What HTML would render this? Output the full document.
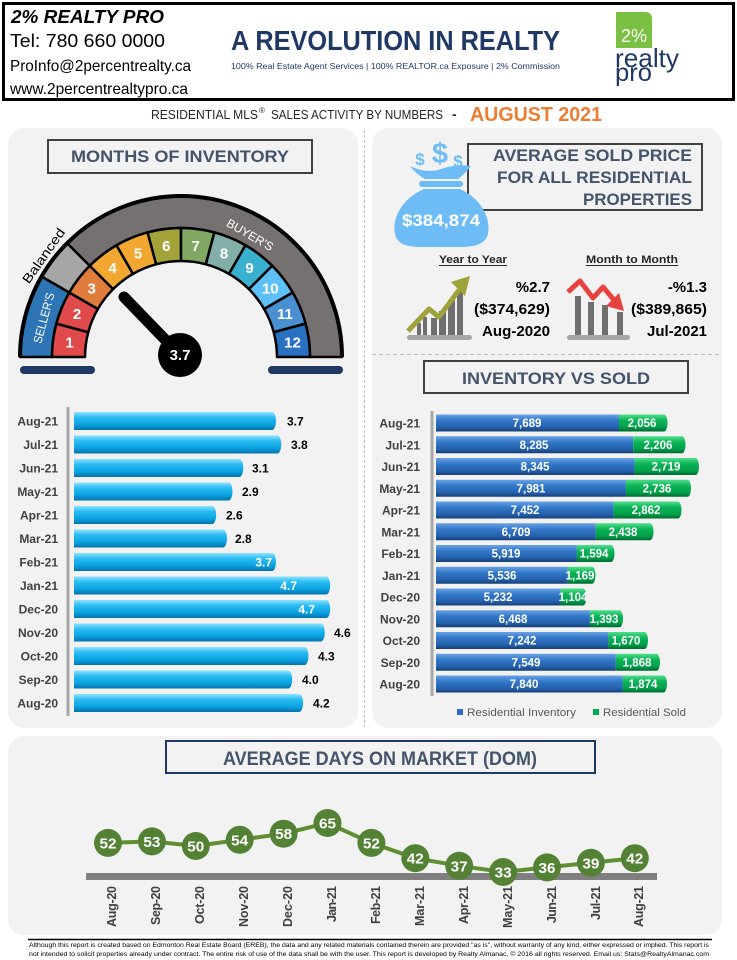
<!DOCTYPE html>
<html><head><meta charset="utf-8"><style>
html,body{margin:0;padding:0;background:#fff;width:737px;height:960px;overflow:hidden}
svg{display:block}
text{font-family:"Liberation Sans",sans-serif}
</style></head><body>
<svg width="737" height="960" viewBox="0 0 737 960" xmlns="http://www.w3.org/2000/svg">
<defs>
<linearGradient id="gb" x1="0" y1="0" x2="0" y2="1">
<stop offset="0" stop-color="#8fe2ff"/><stop offset="0.3" stop-color="#2cbcf2"/><stop offset="0.7" stop-color="#0aa2e2"/><stop offset="1" stop-color="#0672aa"/></linearGradient>
<linearGradient id="gi" x1="0" y1="0" x2="0" y2="1">
<stop offset="0" stop-color="#6aa2e6"/><stop offset="0.35" stop-color="#3378c8"/><stop offset="0.75" stop-color="#2461ad"/><stop offset="1" stop-color="#173f78"/></linearGradient>
<linearGradient id="gs" x1="0" y1="0" x2="0" y2="1">
<stop offset="0" stop-color="#4fe08a"/><stop offset="0.35" stop-color="#0cb257"/><stop offset="0.75" stop-color="#00a04a"/><stop offset="1" stop-color="#006a30"/></linearGradient>
</defs>

<!-- Header -->
<rect x="3.5" y="3.5" width="730" height="96" fill="#fff" stroke="#000" stroke-width="3"/>
<text x="11" y="23" font-size="18" font-weight="bold" font-style="italic" textLength="153" lengthAdjust="spacingAndGlyphs">2% REALTY PRO</text>
<text x="10" y="47" font-size="18.5" textLength="155" lengthAdjust="spacingAndGlyphs">Tel: 780 660 0000</text>
<text x="10" y="71" font-size="16" textLength="181" lengthAdjust="spacingAndGlyphs">ProInfo@2percentrealty.ca</text>
<text x="10" y="94" font-size="16" textLength="178" lengthAdjust="spacingAndGlyphs">www.2percentrealtypro.ca</text>
<text x="231" y="50" font-size="28" font-weight="bold" fill="#1f3864" textLength="329" lengthAdjust="spacingAndGlyphs">A REVOLUTION IN REALTY</text>
<text x="231" y="69" font-size="8.5" fill="#1f3864" textLength="329" lengthAdjust="spacingAndGlyphs">100% Real Estate Agent Services | 100% REALTOR.ca Exposure | 2% Commission</text>
<path d="M616,12 H645 Q652,12 652,19 V48 H616 Z" fill="#7ac143"/>
<text x="634" y="42" font-size="18" fill="#fff" text-anchor="middle">2%</text>
<text x="615" y="67" font-size="26" fill="#1f3864" textLength="64" lengthAdjust="spacingAndGlyphs">realty</text>
<text x="615" y="81" font-size="25" fill="#1f3864" textLength="37" lengthAdjust="spacingAndGlyphs">pro</text>

<!-- Title line -->
<text x="151" y="119" font-size="12.5" fill="#262626" textLength="107" lengthAdjust="spacingAndGlyphs">RESIDENTIAL MLS</text>
<text x="259" y="113" font-size="8" fill="#262626">®</text>
<text x="271" y="119" font-size="12.5" fill="#262626" textLength="172" lengthAdjust="spacingAndGlyphs">SALES ACTIVITY BY NUMBERS</text>
<text x="452" y="119" font-size="14" font-weight="bold" fill="#262626">-</text>
<text x="470" y="121" font-size="20" font-weight="bold" fill="#ed7d31" textLength="132" lengthAdjust="spacingAndGlyphs">AUGUST 2021</text>

<!-- Panels -->
<rect x="8" y="128" width="350" height="600" rx="16" fill="#f2f2f2"/>
<rect x="372" y="128" width="350" height="600" rx="16" fill="#f2f2f2"/>
<rect x="8" y="736" width="714" height="199" rx="16" fill="#f2f2f2"/>
<line x1="364.5" y1="130" x2="364.5" y2="727" stroke="#bdbdbd" stroke-width="1" stroke-dasharray="3,2"/>
<line x1="372" y1="354.5" x2="722" y2="354.5" stroke="#bdbdbd" stroke-width="1" stroke-dasharray="4,3"/>

<!-- Months of inventory title -->
<rect x="48" y="140" width="264" height="33" fill="none" stroke="#404040" stroke-width="2"/>
<text x="180" y="162" font-size="17" font-weight="bold" fill="#44546a" text-anchor="middle" textLength="218" lengthAdjust="spacingAndGlyphs">MONTHS OF INVENTORY</text>

<!-- Gauge -->
<g stroke="#000" stroke-width="2.5" stroke-linejoin="round">
<path d="M20,357 A161,161 0 0 1 41.57,276.5 L69.29,292.5 A129,129 0 0 0 52,357 Z" fill="#2e75b6"/>
<path d="M41.57,276.5 A161,161 0 0 1 67.16,243.16 L89.78,265.78 A129,129 0 0 0 69.29,292.5 Z" fill="#a6a6a6"/>
<path d="M67.16,243.16 A161,161 0 0 1 342,357 L310,357 A129,129 0 0 0 89.78,265.78 Z" fill="#767171"/>
<path d="M52,357 A129,129 0 0 1 56.40,323.61 L88.27,332.16 A96,96 0 0 0 85,357 Z" fill="#e04a4a"/>
<path d="M56.40,323.61 A129,129 0 0 1 69.29,292.5 L97.86,309 A96,96 0 0 0 88.27,332.16 Z" fill="#e04a4a"/>
<path d="M69.29,292.5 A129,129 0 0 1 89.78,265.78 L113.12,289.12 A96,96 0 0 0 97.86,309 Z" fill="#e07d3c"/>
<path d="M89.78,265.78 A129,129 0 0 1 116.5,245.29 L133,273.86 A96,96 0 0 0 113.12,289.12 Z" fill="#f2a830"/>
<path d="M116.5,245.29 A129,129 0 0 1 147.61,232.40 L156.16,264.27 A96,96 0 0 0 133,273.86 Z" fill="#f2a830"/>
<path d="M147.61,232.40 A129,129 0 0 1 181,228 L181,261 A96,96 0 0 0 156.16,264.27 Z" fill="#a3a33a"/>
<path d="M181,228 A129,129 0 0 1 214.39,232.40 L205.84,264.27 A96,96 0 0 0 181,261 Z" fill="#7fa862"/>
<path d="M214.39,232.40 A129,129 0 0 1 245.5,245.29 L229,273.86 A96,96 0 0 0 205.84,264.27 Z" fill="#82b0a8"/>
<path d="M245.5,245.29 A129,129 0 0 1 272.22,265.78 L248.88,289.12 A96,96 0 0 0 229,273.86 Z" fill="#3ab0d0"/>
<path d="M272.22,265.78 A129,129 0 0 1 292.71,292.5 L264.14,309 A96,96 0 0 0 248.88,289.12 Z" fill="#5ec0f8"/>
<path d="M292.71,292.5 A129,129 0 0 1 305.60,323.61 L273.73,332.16 A96,96 0 0 0 264.14,309 Z" fill="#4a90d0"/>
<path d="M305.60,323.61 A129,129 0 0 1 310,357 L277,357 A96,96 0 0 0 273.73,332.16 Z" fill="#2a70c0"/>
</g>
<path d="M20,357 A161,161 0 0 1 342,357" fill="none" stroke="#000" stroke-width="4"/>
<g font-size="15" font-weight="bold" fill="#fff" text-anchor="middle">
<text x="69.5" y="347.5">1</text><text x="77.1" y="319">2</text><text x="91.7" y="293.5">3</text>
<text x="112.5" y="273">4</text><text x="138" y="258.5">5</text><text x="166.3" y="251">6</text>
<text x="195.7" y="251">7</text><text x="224" y="258.5">8</text><text x="249.5" y="273">9</text>
<text x="270.3" y="293.5">10</text><text x="284.9" y="319">11</text><text x="292.5" y="347.5">12</text>
</g>
<text transform="translate(44,318) rotate(-75)" font-size="12" fill="#fff" text-anchor="middle" dy="4" textLength="52" lengthAdjust="spacingAndGlyphs">SELLER'S</text>
<text transform="translate(44,256) rotate(-55)" font-size="13" fill="#000" text-anchor="middle" dy="4" textLength="64" lengthAdjust="spacingAndGlyphs">Balanced</text>
<text transform="translate(250,235) rotate(30)" font-size="12" fill="#fff" text-anchor="middle" dy="4" textLength="52" lengthAdjust="spacingAndGlyphs">BUYER'S</text>
<line x1="180" y1="355" x2="124" y2="297" stroke="#000" stroke-width="11" stroke-linecap="round"/>
<circle cx="180" cy="355" r="22" fill="#000"/>
<text x="180" y="360" font-size="15" font-weight="bold" fill="#fff" text-anchor="middle">3.7</text>
<rect x="20" y="366" width="75" height="8" rx="4" fill="#1f3864"/>
<rect x="268" y="366" width="75" height="8" rx="4" fill="#1f3864"/>

<!-- Months bar chart -->
<line x1="68" y1="407" x2="68" y2="716" stroke="#a6a6a6" stroke-width="3"/>
<g fill="url(#gb)">
<path d="M74,412 H272 A4,9 0 0 1 272,430 H74 Z"/>
<path d="M74,435.5 H277.3 A4,9 0 0 1 277.3,453.5 H74 Z"/>
<path d="M74,459 H239.3 A4,9 0 0 1 239.3,477 H74 Z"/>
<path d="M74,482.5 H228.5 A4,9 0 0 1 228.5,500.5 H74 Z"/>
<path d="M74,506 H212.2 A4,9 0 0 1 212.2,524 H74 Z"/>
<path d="M74,529.5 H223 A4,9 0 0 1 223,547.5 H74 Z"/>
<path d="M74,553 H272 A4,9 0 0 1 272,571 H74 Z"/>
<path d="M74,576.5 H326.2 A4,9 0 0 1 326.2,594.5 H74 Z"/>
<path d="M74,600 H326.2 A4,9 0 0 1 326.2,618 H74 Z"/>
<path d="M74,623.5 H320.8 A4,9 0 0 1 320.8,641.5 H74 Z"/>
<path d="M74,647 H304.5 A4,9 0 0 1 304.5,665 H74 Z"/>
<path d="M74,670.5 H288.2 A4,9 0 0 1 288.2,688.5 H74 Z"/>
<path d="M74,694 H299.1 A4,9 0 0 1 299.1,712 H74 Z"/>
</g>
<g font-size="12" font-weight="bold" fill="#404040" text-anchor="end">
<text x="58" y="425.5">Aug-21</text><text x="58" y="449">Jul-21</text><text x="58" y="472.5">Jun-21</text>
<text x="58" y="496">May-21</text><text x="58" y="519.5">Apr-21</text><text x="58" y="543">Mar-21</text>
<text x="58" y="566.5">Feb-21</text><text x="58" y="590">Jan-21</text><text x="58" y="613.5">Dec-20</text>
<text x="58" y="637">Nov-20</text><text x="58" y="660.5">Oct-20</text><text x="58" y="684">Sep-20</text>
<text x="58" y="707.5">Aug-20</text>
</g>
<g font-size="12" font-weight="bold" fill="#000">
<text x="287" y="425.5">3.7</text><text x="291" y="449">3.8</text><text x="252" y="472.5">3.1</text>
<text x="242" y="496">2.9</text><text x="226" y="519.5">2.6</text><text x="235" y="543">2.8</text>
<text x="334" y="637">4.6</text><text x="318" y="660.5">4.3</text><text x="302" y="684">4.0</text>
<text x="313" y="707.5">4.2</text>
</g>
<g font-size="12" font-weight="bold" fill="#fff" text-anchor="end">
<text x="272" y="566.5">3.7</text><text x="297" y="590">4.7</text><text x="315" y="613.5">4.7</text>
</g>

<!-- Average sold price -->
<rect x="468" y="144" width="234" height="66" fill="none" stroke="#404040" stroke-width="2"/>
<g font-size="17" font-weight="bold" fill="#44546a" text-anchor="end">
<text x="692" y="161" textLength="199" lengthAdjust="spacingAndGlyphs">AVERAGE  SOLD PRICE</text>
<text x="692" y="183" textLength="195" lengthAdjust="spacingAndGlyphs">FOR ALL RESIDENTIAL</text>
<text x="692" y="205" textLength="109" lengthAdjust="spacingAndGlyphs">PROPERTIES</text>
</g>
<!-- money bag -->
<g fill="#6ebcf5">
<path d="M424,189 L460,189 C482,199 491,219 488,234 Q485,247 462,247 L420,247 Q397,247 395,234 C392,219 401,199 424,189 Z"/>
<rect x="419" y="181" width="44" height="6" rx="3"/>
<path d="M410,166 Q426,174 441,169 Q456,164 471,166 Q465,174 458,179 L425,179 Q416,174 410,166 Z"/>
<text x="420" y="165" font-size="17" font-weight="bold" text-anchor="middle">$</text>
<text x="440" y="163" font-size="29" font-weight="bold" text-anchor="middle">$</text>
<text x="458" y="167" font-size="17" font-weight="bold" text-anchor="middle">$</text>
</g>
<text x="441" y="226" font-size="17" font-weight="bold" fill="#fff" text-anchor="middle" textLength="78" lengthAdjust="spacingAndGlyphs">$384,874</text>

<text x="473" y="263" font-size="11" font-weight="bold" fill="#262626" text-anchor="middle" textLength="68" lengthAdjust="spacingAndGlyphs">Year to Year</text>
<line x1="439" y1="265.5" x2="507" y2="265.5" stroke="#262626" stroke-width="1"/>
<text x="632" y="263" font-size="11" font-weight="bold" fill="#262626" text-anchor="middle" textLength="92" lengthAdjust="spacingAndGlyphs">Month to Month</text>
<line x1="586" y1="265.5" x2="678" y2="265.5" stroke="#262626" stroke-width="1"/>

<!-- up chart icon -->
<rect x="407" y="335" width="65" height="5" rx="2.5" fill="#a6a6a6"/>
<g fill="#6f6f6f">
<rect x="417" y="323" width="4" height="12"/><rect x="423" y="317" width="4" height="18"/>
<rect x="431" y="318" width="6" height="17"/><rect x="439" y="311" width="7" height="24"/>
<rect x="448" y="300" width="7" height="35"/><rect x="457" y="292" width="6" height="43"/>
</g>
<polyline points="408,331 429,309 439,317 459,290" fill="none" stroke="#9ea23a" stroke-width="5" stroke-linejoin="round"/>
<polygon points="470,276 451,282 465,296" fill="#9ea23a"/>
<!-- down chart icon -->
<rect x="567" y="335" width="63" height="5" rx="2.5" fill="#a6a6a6"/>
<g fill="#6f6f6f">
<rect x="575" y="296" width="6" height="39"/><rect x="588" y="302" width="6" height="33"/>
<rect x="602" y="305" width="6" height="30"/><rect x="617" y="312" width="6" height="23"/>
</g>
<polyline points="568,292 580,281 593,298 603,287 614,300" fill="none" stroke="#e8423e" stroke-width="5" stroke-linejoin="round"/>
<polygon points="624,311 606,306 619,293" fill="#e8423e"/>

<g font-size="15" font-weight="bold" fill="#000" text-anchor="end">
<text x="550" y="292">%2.7</text>
<text x="550" y="314" textLength="76" lengthAdjust="spacingAndGlyphs">($374,629)</text>
<text x="550" y="336" textLength="68" lengthAdjust="spacingAndGlyphs">Aug-2020</text>
<text x="707" y="292">-%1.3</text>
<text x="707" y="314" textLength="76" lengthAdjust="spacingAndGlyphs">($389,865)</text>
<text x="707" y="336" textLength="60" lengthAdjust="spacingAndGlyphs">Jul-2021</text>
</g>

<!-- Inventory vs sold -->
<rect x="424" y="361" width="264" height="32" fill="none" stroke="#404040" stroke-width="2"/>
<text x="556" y="384" font-size="17" font-weight="bold" fill="#44546a" text-anchor="middle" textLength="188" lengthAdjust="spacingAndGlyphs">INVENTORY VS SOLD</text>
<line x1="432" y1="411" x2="432" y2="696" stroke="#a6a6a6" stroke-width="3"/>
<g>
<rect x="436" y="414.5" width="183" height="17" fill="url(#gi)"/><path d="M619,414.5 H664 A3.5,8.5 0 0 1 664,431.5 H619 Z" fill="url(#gs)"/>
<rect x="436" y="436.25" width="197.2" height="17" fill="url(#gi)"/><path d="M633.2,436.25 H682 A3.5,8.5 0 0 1 682,453.25 H633.2 Z" fill="url(#gs)"/>
<rect x="436" y="458" width="198.6" height="17" fill="url(#gi)"/><path d="M634.6,458 H695.5 A3.5,8.5 0 0 1 695.5,475 H634.6 Z" fill="url(#gs)"/>
<rect x="436" y="479.75" width="189.9" height="17" fill="url(#gi)"/><path d="M625.9,479.75 H687.5 A3.5,8.5 0 0 1 687.5,496.75 H625.9 Z" fill="url(#gs)"/>
<rect x="436" y="501.5" width="177.4" height="17" fill="url(#gi)"/><path d="M613.4,501.5 H678 A3.5,8.5 0 0 1 678,518.5 H613.4 Z" fill="url(#gs)"/>
<rect x="436" y="523.25" width="159.7" height="17" fill="url(#gi)"/><path d="M595.7,523.25 H650 A3.5,8.5 0 0 1 650,540.25 H595.7 Z" fill="url(#gs)"/>
<rect x="436" y="545" width="140.9" height="17" fill="url(#gi)"/><path d="M576.9,545 H611 A3.5,8.5 0 0 1 611,562 H576.9 Z" fill="url(#gs)"/>
<rect x="436" y="566.75" width="131.8" height="17" fill="url(#gi)"/><path d="M567.8,566.75 H592 A3.5,8.5 0 0 1 592,583.75 H567.8 Z" fill="url(#gs)"/>
<rect x="436" y="588.5" width="124.5" height="17" fill="url(#gi)"/><path d="M560.5,588.5 H583 A3.5,8.5 0 0 1 583,605.5 H560.5 Z" fill="url(#gs)"/>
<rect x="436" y="610.25" width="153.9" height="17" fill="url(#gi)"/><path d="M589.9,610.25 H619.5 A3.5,8.5 0 0 1 619.5,627.25 H589.9 Z" fill="url(#gs)"/>
<rect x="436" y="632" width="172.4" height="17" fill="url(#gi)"/><path d="M608.4,632 H644.5 A3.5,8.5 0 0 1 644.5,649 H608.4 Z" fill="url(#gs)"/>
<rect x="436" y="653.75" width="179.7" height="17" fill="url(#gi)"/><path d="M615.7,653.75 H656.5 A3.5,8.5 0 0 1 656.5,670.75 H615.7 Z" fill="url(#gs)"/>
<rect x="436" y="675.5" width="186.6" height="17" fill="url(#gi)"/><path d="M622.6,675.5 H663.5 A3.5,8.5 0 0 1 663.5,692.5 H622.6 Z" fill="url(#gs)"/>
</g>
<g font-size="12" font-weight="bold" fill="#404040" text-anchor="end">
<text x="420" y="427.5">Aug-21</text><text x="420" y="449.25">Jul-21</text><text x="420" y="471">Jun-21</text>
<text x="420" y="492.75">May-21</text><text x="420" y="514.5">Apr-21</text><text x="420" y="536.25">Mar-21</text>
<text x="420" y="558">Feb-21</text><text x="420" y="579.75">Jan-21</text><text x="420" y="601.5">Dec-20</text>
<text x="420" y="623.25">Nov-20</text><text x="420" y="645">Oct-20</text><text x="420" y="666.75">Sep-20</text>
<text x="420" y="688.5">Aug-20</text>
</g>
<g font-size="11.5" font-weight="bold" fill="#fff" text-anchor="middle">
<text x="527" y="427">7,689</text><text x="642" y="427">2,056</text>
<text x="534" y="448.75">8,285</text><text x="658" y="448.75">2,206</text>
<text x="535" y="470.5">8,345</text><text x="666" y="470.5">2,719</text>
<text x="531" y="492.25">7,981</text><text x="657" y="492.25">2,736</text>
<text x="525" y="514">7,452</text><text x="646" y="514">2,862</text>
<text x="516" y="535.75">6,709</text><text x="623" y="535.75">2,438</text>
<text x="506" y="557.5">5,919</text><text x="594" y="557.5">1,594</text>
<text x="502" y="579.25">5,536</text><text x="580" y="579.25">1,169</text>
<text x="498" y="601">5,232</text><text x="573" y="601">1,104</text>
<text x="513" y="622.75">6,468</text><text x="604" y="622.75">1,393</text>
<text x="522" y="644.5">7,242</text><text x="626" y="644.5">1,670</text>
<text x="526" y="666.25">7,549</text><text x="637" y="666.25">1,868</text>
<text x="524" y="688">7,840</text><text x="643" y="688">1,874</text>
</g>
<rect x="457" y="709" width="6" height="6" fill="#2e6fc0"/>
<text x="467" y="716" font-size="11" fill="#595959" textLength="109" lengthAdjust="spacingAndGlyphs">Residential Inventory</text>
<rect x="593" y="709" width="6" height="6" fill="#00b050"/>
<text x="603" y="716" font-size="11" fill="#595959" textLength="83" lengthAdjust="spacingAndGlyphs">Residential Sold</text>

<!-- DOM -->
<rect x="166" y="741" width="429" height="32" fill="none" stroke="#1f3864" stroke-width="2"/>
<text x="380" y="765" font-size="19" font-weight="bold" fill="#44546a" text-anchor="middle" textLength="314" lengthAdjust="spacingAndGlyphs">AVERAGE DAYS ON MARKET  (DOM)</text>
<rect x="86" y="873" width="571" height="7" fill="#7f7f7f"/>
<polyline points="108,842.9 151.9,841.4 195.8,846 239.7,839.8 283.6,833.7 327.5,823 371.4,842.9 415.3,858.2 459.2,865.8 503.1,872 547,867.4 590.9,862.8 634.8,858.2" fill="none" stroke="#5f8f30" stroke-width="4" stroke-linejoin="round"/>
<g fill="#548235">
<circle cx="108" cy="842.9" r="14"/><circle cx="151.9" cy="841.4" r="14"/><circle cx="195.8" cy="846" r="14"/>
<circle cx="239.7" cy="839.8" r="14"/><circle cx="283.6" cy="833.7" r="14"/><circle cx="327.5" cy="823" r="14"/>
<circle cx="371.4" cy="842.9" r="14"/><circle cx="415.3" cy="858.2" r="14"/><circle cx="459.2" cy="865.8" r="14"/>
<circle cx="503.1" cy="872" r="14"/><circle cx="547" cy="867.4" r="14"/><circle cx="590.9" cy="862.8" r="14"/>
<circle cx="634.8" cy="858.2" r="14"/>
</g>
<g font-size="15" font-weight="bold" fill="#fff" text-anchor="middle">
<text x="108" y="848.4" textLength="17" lengthAdjust="spacingAndGlyphs">52</text>
<text x="151.9" y="846.9" textLength="17" lengthAdjust="spacingAndGlyphs">53</text>
<text x="195.8" y="851.5" textLength="17" lengthAdjust="spacingAndGlyphs">50</text>
<text x="239.7" y="845.3" textLength="17" lengthAdjust="spacingAndGlyphs">54</text>
<text x="283.6" y="839.2" textLength="17" lengthAdjust="spacingAndGlyphs">58</text>
<text x="327.5" y="828.5" textLength="17" lengthAdjust="spacingAndGlyphs">65</text>
<text x="371.4" y="848.4" textLength="17" lengthAdjust="spacingAndGlyphs">52</text>
<text x="415.3" y="863.7" textLength="17" lengthAdjust="spacingAndGlyphs">42</text>
<text x="459.2" y="871.3" textLength="17" lengthAdjust="spacingAndGlyphs">37</text>
<text x="503.1" y="877.5" textLength="17" lengthAdjust="spacingAndGlyphs">33</text>
<text x="547" y="872.9" textLength="17" lengthAdjust="spacingAndGlyphs">36</text>
<text x="590.9" y="868.3" textLength="17" lengthAdjust="spacingAndGlyphs">39</text>
<text x="634.8" y="863.7" textLength="17" lengthAdjust="spacingAndGlyphs">42</text>
</g>
<g font-size="12.5" font-weight="bold" fill="#404040" text-anchor="end">
<text transform="translate(116,886) rotate(-90)" textLength="41" lengthAdjust="spacing">Aug-20</text>
<text transform="translate(160,886) rotate(-90)" textLength="39" lengthAdjust="spacing">Sep-20</text>
<text transform="translate(204,886) rotate(-90)" textLength="38" lengthAdjust="spacing">Oct-20</text>
<text transform="translate(248,886) rotate(-90)" textLength="41" lengthAdjust="spacing">Nov-20</text>
<text transform="translate(292,886) rotate(-90)" textLength="41" lengthAdjust="spacing">Dec-20</text>
<text transform="translate(336,886) rotate(-90)" textLength="36" lengthAdjust="spacing">Jan-21</text>
<text transform="translate(380,886) rotate(-90)" textLength="38" lengthAdjust="spacing">Feb-21</text>
<text transform="translate(424,886) rotate(-90)" textLength="40" lengthAdjust="spacing">Mar-21</text>
<text transform="translate(468,886) rotate(-90)" textLength="38" lengthAdjust="spacing">Apr-21</text>
<text transform="translate(512,886) rotate(-90)" textLength="42" lengthAdjust="spacing">May-21</text>
<text transform="translate(556,886) rotate(-90)" textLength="37" lengthAdjust="spacing">Jun-21</text>
<text transform="translate(600,886) rotate(-90)" textLength="34" lengthAdjust="spacing">Jul-21</text>
<text transform="translate(643,886) rotate(-90)" textLength="41" lengthAdjust="spacing">Aug-21</text>
</g>

<!-- Footer -->
<line x1="28" y1="939.5" x2="712" y2="939.5" stroke="#000" stroke-width="1.5"/>
<text x="29" y="947" font-size="6" fill="#000" textLength="680" lengthAdjust="spacingAndGlyphs">Although this report is created based on Edmonton Real Estate Board (EREB), the data and any related materials contained therein are provided "as is", without warranty of any kind, either expressed or implied.  This report is</text>
<text x="29" y="956" font-size="6" fill="#000" textLength="680" lengthAdjust="spacingAndGlyphs">not intended to solicit properties already under contract.  The entire risk of use of the data shall be with the user.  This report is developed by Realty Almanac, © 2016 all rights reserved. Email us: Stats@RealtyAlmanac.com</text>
</svg>
</body></html>
